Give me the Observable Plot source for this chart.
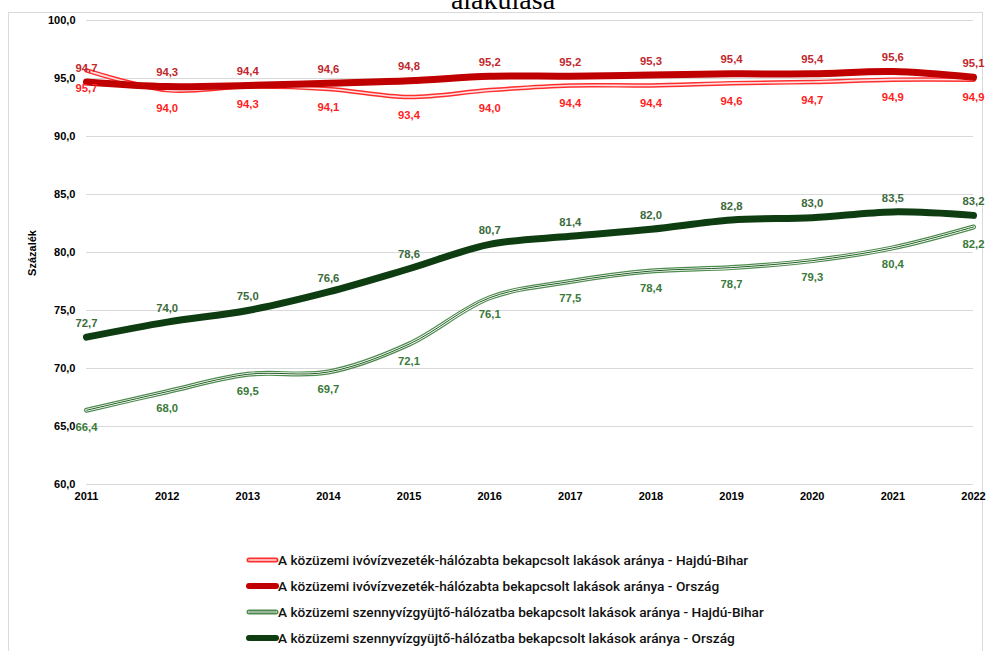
<!DOCTYPE html>
<html><head><meta charset="utf-8">
<script src="https://cdn.jsdelivr.net/npm/d3@7"></script>
<script src="https://cdn.jsdelivr.net/npm/@observablehq/plot@0.6"></script>
<style>
html,body{margin:0;padding:0;background:#fff;}
#wrap{position:relative;width:987px;height:651px;overflow:hidden;font-family:"Liberation Sans",Arial,sans-serif;}
#frame{position:absolute;left:8px;top:12px;width:975px;height:700px;border:1px solid #d9d9d9;box-sizing:border-box;}
#title{position:absolute;left:0;top:0;}
#chart{position:absolute;left:0;top:0;}
#ylab{position:absolute;left:0;top:0;}
#legend{position:absolute;left:0;top:0;}
</style></head>
<body><div id="wrap"><div id="frame"></div><div id="chart"></div>
<svg id="title" width="987" height="20"><text x="503" y="9" text-anchor="middle" font-family="Liberation Serif, Times New Roman, serif" font-size="28" fill="#000">alakulása</text></svg>
<svg id="ylab" width="60" height="400"><text transform="translate(36,253) rotate(-90)" text-anchor="middle" font-size="11" font-weight="bold" fill="#000">Százalék</text></svg>
<svg id="legend" width="987" height="651"></svg>
</div>
<script>
const years = [2011,2012,2013,2014,2015,2016,2017,2018,2019,2020,2021,2022];
const ivoHB = [95.7,94.0,94.3,94.1,93.4,94.0,94.4,94.4,94.6,94.7,94.9,94.9];
const ivoOrszag = [94.7,94.3,94.4,94.6,94.8,95.2,95.2,95.3,95.4,95.4,95.6,95.1];
const szennyHB = [66.4,68.0,69.5,69.7,72.1,76.1,77.5,78.4,78.7,79.3,80.4,82.2];
const szennyOrszag = [72.7,74.0,75.0,76.6,78.6,80.7,81.4,82.0,82.8,83.0,83.5,83.2];
const yTicks = [60,65,70,75,80,85,90,95,100];
const seriesNames = [
  "A közüzemi ivóvízvezeték-hálózabta bekapcsolt lakások aránya - Hajdú-Bihar",
  "A közüzemi ivóvízvezeték-hálózabta bekapcsolt lakások aránya - Ország",
  "A közüzemi szennyvízgyüjtő-hálózatba bekapcsolt lakások aránya - Hajdú-Bihar",
  "A közüzemi szennyvízgyüjtő-hálózatba bekapcsolt lakások aránya - Ország"
];

const toRows = vals => years.map((year,i)=>({year, v: vals[i]}));
const fmt = v => v.toFixed(1).replace(".", ",");
const curve = "catmull-rom";
const rIvoHB = toRows(ivoHB), rIvoO = toRows(ivoOrszag), rSzHB = toRows(szennyHB), rSzO = toRows(szennyOrszag);

const lab = (rows, dy, fill) => Plot.text(rows, {x:"year", y:"v", text: d=>fmt(d.v), dy, fill, fontSize:11.3, fontWeight:"bold", fontFamily:"Liberation Sans, Arial, sans-serif"});

const plot = Plot.plot({
  width: 987, height: 510,
  marginLeft: 86, marginRight: 14, marginTop: 20, marginBottom: 26,
  style: {fontFamily:"Liberation Sans, Arial, sans-serif", background:"transparent", color:"#000"},
  x: {domain:[2011,2022]},
  y: {domain:[60,100]},
  marks: [
    Plot.gridY(yTicks, {stroke:"#d9d9d9", strokeOpacity:1, strokeWidth:1}),
    Plot.axisY(yTicks, {tickSize:0, tickPadding:11, tickFormat: fmt, fontSize:11, fontWeight:"bold", label:null}),
    Plot.axisX(years, {tickSize:0, tickPadding:8, tickFormat: d=>String(d), fontSize:11, fontWeight:"bold", label:null}),
    Plot.line(rIvoHB, {x:"year", y:"v", curve, stroke:"#ff2e2e", strokeWidth:4.5}),
    Plot.line(rIvoHB, {x:"year", y:"v", curve, stroke:"#ffe0e0", strokeWidth:1.6}),
    Plot.line(rIvoO, {x:"year", y:"v", curve, stroke:"#c00000", strokeWidth:7}),
    Plot.line(rSzHB, {x:"year", y:"v", curve, stroke:"#4e8c4e", strokeWidth:5}),
    Plot.line(rSzHB, {x:"year", y:"v", curve, stroke:"#ffffff", strokeWidth:2.6}),
    Plot.line(rSzHB, {x:"year", y:"v", curve, stroke:"#1f5c22", strokeWidth:1}),
    Plot.line(rSzO, {x:"year", y:"v", curve, stroke:"#0e3d12", strokeWidth:7}),
    lab(rIvoO, -14, "#c0282d"),
    lab(rIvoHB, 18, "#ff1f1f"),
    lab(rSzO, -14, "#3c6b3c"),
    lab(rSzHB, 17, "#3a7a3a")
  ]
});
document.getElementById("chart").appendChild(plot);

const leg = d3.select("#legend");
const legY = [560, 586, 612, 638];
const styles = [
  [{s:"#ff2e2e",w:5},{s:"#ffe0e0",w:1.6}],
  [{s:"#c00000",w:6}],
  [{s:"#4e8c4e",w:5},{s:"#ffffff",w:2.2},{s:"#1f5c22",w:0.9}],
  [{s:"#0e3d12",w:6}]
];
seriesNames.forEach((name,i)=>{
  styles[i].forEach(st=>{
    leg.append("line").attr("x1",249).attr("x2",276).attr("y1",legY[i]).attr("y2",legY[i])
      .attr("stroke",st.s).attr("stroke-width",st.w).attr("stroke-linecap","round");
  });
  leg.append("text").attr("x",278).attr("y",legY[i]).attr("dy","0.35em")
    .attr("font-size",12.5).attr("fill","#111").attr("font-weight",500)
    .attr("font-family","Roboto, Liberation Sans, Arial, sans-serif")
    .text(name);
});
const t0 = leg.select("text").node();
const w0 = t0.getComputedTextLength();
const fs = 12.5 * 471 / w0;
leg.selectAll("text").attr("font-size", fs);
</script>
</body></html>
